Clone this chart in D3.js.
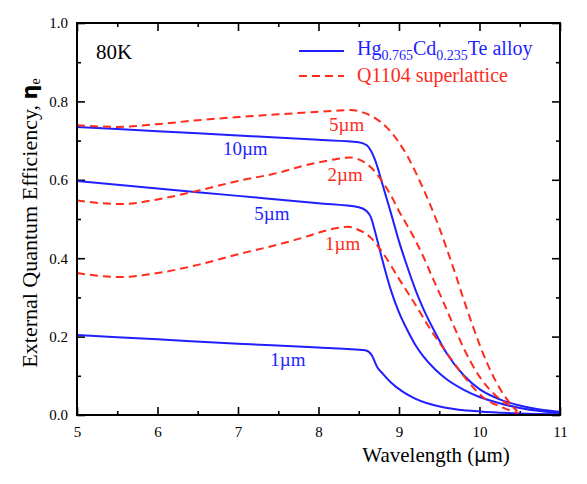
<!DOCTYPE html>
<html>
<head>
<meta charset="utf-8">
<script src="https://cdn.jsdelivr.net/npm/d3@7"></script>
<style>
  body { margin: 0; background: #fff; }
  svg text { font-family: 'Liberation Serif', 'DejaVu Serif', serif; }
</style>
</head>
<body>
<div id="chart"></div>
<script>
// wavelength (um) / external quantum efficiency
const hgcdte10 = [[5,0.735],[6,0.724],[7,0.713],[8,0.702],[8.5,0.696],[8.6,0.688],[8.7,0.652],[8.8,0.585],
  [8.9,0.515],[9.0,0.443],[9.1,0.38],[9.2,0.322],[9.3,0.272],[9.45,0.21],[9.6,0.155],[9.8,0.102],[10,0.066],
  [10.25,0.04],[10.5,0.024],[10.75,0.014],[11,0.008]];
const hgcdte5 = [[5,0.597],[6,0.578],[7,0.559],[8,0.54],[8.5,0.53],[8.6,0.52],[8.65,0.505],[8.7,0.47],
  [8.75,0.43],[8.8,0.39],[8.9,0.318],[9.0,0.262],[9.1,0.218],[9.2,0.18],[9.3,0.15],[9.45,0.116],[9.6,0.09],
  [9.8,0.065],[10,0.046],[10.25,0.03],[10.5,0.018],[10.75,0.01],[11,0.005]];
const hgcdte1 = [[5,0.204],[6,0.193],[7,0.182],[8,0.172],[8.58,0.165],[8.66,0.153],[8.73,0.122],[8.8,0.105],
  [8.9,0.083],[9.05,0.059],[9.2,0.042],[9.35,0.03],[9.6,0.018],[10,0.009],[10.5,0.004],[11,0.002]];
const sl5 = [[5,0.739],[5.5,0.735],[6,0.742],[6.5,0.752],[7,0.76],[7.5,0.767],[7.8,0.771],[8.2,0.776],
  [8.4,0.778],[8.55,0.772],[8.7,0.758],[8.85,0.733],[9.0,0.695],[9.1,0.662],[9.2,0.622],[9.3,0.578],
  [9.4,0.53],[9.5,0.478],[9.6,0.42],[9.7,0.36],[9.8,0.297],[9.9,0.237],[10.0,0.18],[10.1,0.13],
  [10.2,0.087],[10.3,0.052],[10.4,0.025],[10.47,0.01]];
const sl2 = [[5,0.547],[5.55,0.538],[6,0.55],[6.5,0.572],[7,0.597],[7.5,0.618],[7.8,0.635],[8.2,0.652],
  [8.4,0.657],[8.5,0.652],[8.65,0.632],[8.76,0.605],[8.9,0.56],[9.0,0.52],[9.1,0.484],[9.2,0.447],
  [9.3,0.405],[9.4,0.358],[9.5,0.312],[9.6,0.265],[9.7,0.218],[9.8,0.172],[9.9,0.132],[10.0,0.098],
  [10.1,0.071],[10.2,0.05],[10.3,0.034],[10.45,0.015]];
const sl1 = [[5,0.362],[5.53,0.352],[6,0.362],[6.5,0.383],[7,0.41],[7.5,0.435],[7.8,0.452],[8,0.465],
  [8.2,0.476],[8.37,0.48],[8.5,0.472],[8.64,0.454],[8.79,0.416],[9.01,0.344],[9.22,0.276],[9.42,0.209],
  [9.63,0.148],[9.84,0.09],[10.04,0.046],[10.3,0.018],[10.48,0.005]];

const xTicks = [5, 6, 7, 8, 9, 10, 11];
const yTicks = [0.0, 0.2, 0.4, 0.6, 0.8, 1.0];

const blue = '#1f1fff', red = '#ff2b1c';
const serif = "'Liberation Serif', 'DejaVu Serif', serif";

const series = [
  {data: hgcdte10, color: blue, dash: null},
  {data: hgcdte5, color: blue, dash: null},
  {data: hgcdte1, color: blue, dash: null},
  {data: sl5, color: red, dash: '8,5'},
  {data: sl2, color: red, dash: '8,5'},
  {data: sl1, color: red, dash: '8,5'}
];

// curve labels, in data coordinates
const notes = [
  {t: '10\u00b5m', x: 7.09, y: 0.663, c: blue},
  {t: '5\u00b5m', x: 7.42, y: 0.497, c: blue},
  {t: '1\u00b5m', x: 7.62, y: 0.125, c: blue},
  {t: '5\u00b5m', x: 8.35, y: 0.724, c: red},
  {t: '2\u00b5m', x: 8.33, y: 0.597, c: red},
  {t: '1\u00b5m', x: 8.30, y: 0.421, c: red}
];

const W = 587, H = 484;
const m = {left: 77, top: 23, right: 27, bottom: 69};
const w = W - m.left - m.right, h = H - m.top - m.bottom;

const svg = d3.select('#chart').append('svg').attr('width', W).attr('height', H)
  .attr('font-family', serif);
const g = svg.append('g').attr('transform', 'translate(' + m.left + ',' + m.top + ')');

const x = d3.scaleLinear().domain([5, 11]).range([0, w]);
const y = d3.scaleLinear().domain([0, 1]).range([h, 0]);

const xMinor = d3.range(5.5, 11, 1);
const yMinor = d3.range(0.1, 1, 0.2);

function styleAxis(sel) {
  sel.attr('font-family', serif);
  sel.select('.domain').remove();
  sel.selectAll('line').attr('stroke', '#000').attr('stroke-width', 1.6);
  sel.selectAll('text').attr('font-size', 15).attr('fill', '#000');
}

// bottom
g.append('g').attr('transform', 'translate(0,' + h + ')')
  .call(d3.axisBottom(x).tickValues(xTicks).tickFormat(d3.format('d')).tickSize(-8).tickPadding(11))
  .call(styleAxis);
g.append('g').attr('transform', 'translate(0,' + h + ')')
  .call(d3.axisBottom(x).tickValues(xMinor).tickFormat('').tickSize(-4)).call(styleAxis);
// top
g.append('g').call(d3.axisTop(x).tickValues(xTicks).tickFormat('').tickSize(-8)).call(styleAxis);
g.append('g').call(d3.axisTop(x).tickValues(xMinor).tickFormat('').tickSize(-4)).call(styleAxis);
// left
g.append('g')
  .call(d3.axisLeft(y).tickValues(yTicks).tickFormat(d3.format('.1f')).tickSize(-8).tickPadding(9))
  .call(styleAxis);
g.append('g').call(d3.axisLeft(y).tickValues(yMinor).tickFormat('').tickSize(-4)).call(styleAxis);
// right
g.append('g').attr('transform', 'translate(' + w + ',0)')
  .call(d3.axisRight(y).tickValues(yTicks).tickFormat('').tickSize(-8)).call(styleAxis);
g.append('g').attr('transform', 'translate(' + w + ',0)')
  .call(d3.axisRight(y).tickValues(yMinor).tickFormat('').tickSize(-4)).call(styleAxis);

const line = d3.line()
  .x(d => x(d[0]))
  .y(d => y(d[1]))
  .curve(d3.curveMonotoneX);

g.selectAll('path.curve')
  .data(series)
  .enter().append('path')
  .attr('class', 'curve')
  .attr('fill', 'none')
  .attr('stroke', d => d.color)
  .attr('stroke-width', 2)
  .attr('stroke-dasharray', d => d.dash)
  .attr('d', d => line(d.data));

// frame
g.append('rect').attr('width', w).attr('height', h)
  .attr('fill', 'none').attr('stroke', '#000').attr('stroke-width', 2);

g.selectAll('text.note')
  .data(notes)
  .enter().append('text')
  .attr('class', 'note')
  .attr('x', d => x(d.x))
  .attr('y', d => y(d.y))
  .attr('text-anchor', 'middle')
  .attr('font-size', 19)
  .attr('fill', d => d.c)
  .text(d => d.t);

g.append('text').attr('x', 19).attr('y', 36).attr('font-size', 21).text('80K');

// legend
const leg = g.append('g');
leg.append('line').attr('x1', 222).attr('x2', 267).attr('y1', 28).attr('y2', 28)
  .attr('stroke', blue).attr('stroke-width', 2);
leg.append('line').attr('x1', 222).attr('x2', 267).attr('y1', 53).attr('y2', 53)
  .attr('stroke', red).attr('stroke-width', 2).attr('stroke-dasharray', '8,5');
const t1 = leg.append('text').attr('x', 280).attr('y', 32).attr('font-size', 20).attr('fill', blue);
t1.append('tspan').text('Hg');
t1.append('tspan').attr('font-size', 14).attr('dy', 5).text('0.765');
t1.append('tspan').attr('dy', -5).text('Cd');
t1.append('tspan').attr('font-size', 14).attr('dy', 5).text('0.235');
t1.append('tspan').attr('dy', -5).text('Te alloy');
leg.append('text').attr('x', 280).attr('y', 59).attr('font-size', 20).attr('fill', red)
  .text('Q1104 superlattice');

// axis titles
const xt = svg.append('text').attr('x', 436).attr('y', 462).attr('text-anchor', 'middle')
  .attr('font-size', 21);
xt.append('tspan').text('Wavelength (');
xt.append('tspan').attr('font-family', "'DejaVu Sans', sans-serif").attr('font-size', 19).text('\u00b5');
xt.append('tspan').text('m)');

const yt = svg.append('text')
  .attr('transform', 'translate(37,' + (m.top + h / 2 + 4) + ') rotate(-90)')
  .attr('text-anchor', 'middle').attr('font-size', 22);
yt.append('tspan').text('External Quantum Efficiency, ');
yt.append('tspan').attr('font-family', "'DejaVu Sans', sans-serif").attr('font-weight', 'bold')
  .attr('font-size', 21).text('\u03b7');
yt.append('tspan').attr('font-size', 14).attr('dy', 3).text('e');
</script>
</body>
</html>
